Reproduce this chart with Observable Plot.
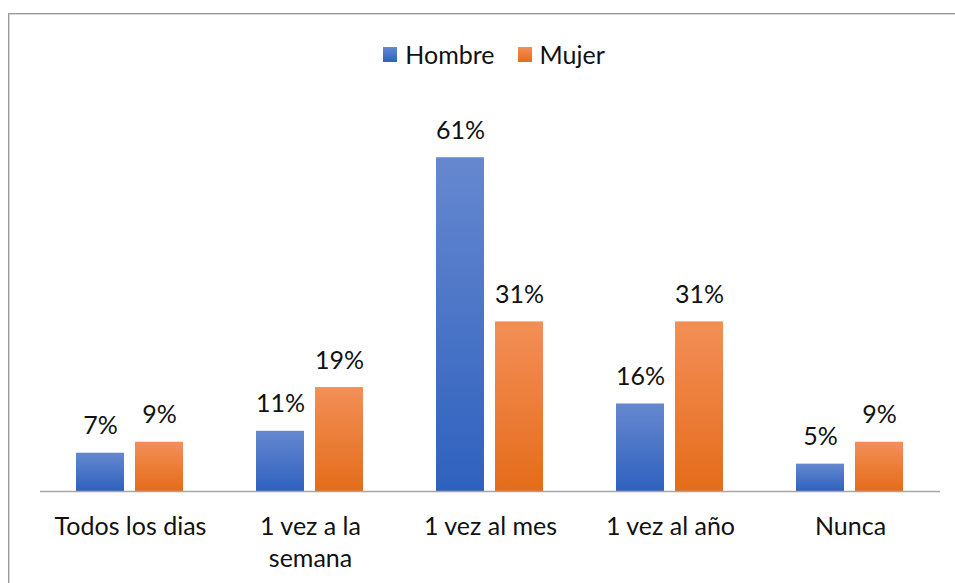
<!DOCTYPE html>
<html>
<head>
<meta charset="utf-8">
<script src="https://cdn.jsdelivr.net/npm/d3@7"></script>
<script src="https://cdn.jsdelivr.net/npm/@observablehq/plot@0.6"></script>
<style>
  html, body { margin: 0; padding: 0; background: #fff; overflow: hidden; }
  body { width: 955px; height: 583px; position: relative; font-family: Lato, "Open Sans", sans-serif; }
  #frame { position: absolute; left: 8px; top: 13px; width: 1000px; height: 600px;
           border-left: 1px solid #9a9a9a; border-top: 1px solid #9a9a9a;
           box-shadow: inset 1px 1px 0 #d6d6d6; box-sizing: border-box; }
  #legend { position: absolute; left: 33px; top: 40px; width: 922px; height: 28px;
            display: flex; justify-content: center; align-items: center;
            font-size: 25px; color: #111; }
  .item { display: flex; align-items: center; }
  .item + .item { margin-left: 23px; }
  .sw { width: 14px; height: 15px; margin-right: 8px; }
  #chart { position: absolute; left: 0; top: 80px; }
</style>
</head>
<body>
<div id="frame"></div>
<div id="legend"></div>
<div id="chart"></div>
<script>
const categories = ["Todos los dias", "1 vez a la semana", "1 vez al mes", "1 vez al año", "Nunca"];
const categoryLabels = ["Todos los dias", "1 vez a la\nsemana", "1 vez al mes", "1 vez al año", "Nunca"];
const series = ["Hombre", "Mujer"];
const hombre = [7, 11, 61, 16, 5];
const mujer = [9, 19, 31, 31, 9];
const gradients = {
  Hombre: ["#6688d0", "#2e61be"],
  Mujer: ["#f38f57", "#e46c1a"]
};

const data = [];
categories.forEach((c, i) => {
  data.push({category: c, series: "Hombre", value: hombre[i]});
  data.push({category: c, series: "Mujer", value: mujer[i]});
});

// legend
const legend = document.getElementById("legend");
series.forEach(s => {
  const item = document.createElement("div");
  item.className = "item";
  const sw = document.createElement("div");
  sw.className = "sw";
  sw.style.background = `linear-gradient(${gradients[s][0]}, ${gradients[s][1]})`;
  const t = document.createElement("span");
  t.textContent = s;
  item.appendChild(sw);
  item.appendChild(t);
  legend.appendChild(item);
});

const defs = () => {
  const d = d3.create("svg:defs");
  series.forEach((s, i) => {
    const g = d.append("linearGradient").attr("id", "grad" + i)
      .attr("x1", 0).attr("y1", 0).attr("x2", 0).attr("y2", 1);
    g.append("stop").attr("offset", "0%").attr("stop-color", gradients[s][0]);
    g.append("stop").attr("offset", "100%").attr("stop-color", gradients[s][1]);
  });
  return d.node();
};

const chart = Plot.plot({
  width: 955,
  height: 500,
  marginLeft: 39,
  marginRight: 15,
  marginTop: 28,
  marginBottom: 89,
  style: {fontFamily: "Lato, 'Open Sans', sans-serif", fontSize: "25px", color: "#111", background: "transparent"},
  fx: {domain: categories, padding: 0, label: null, axis: null},
  x: {domain: series, paddingInner: 0.1833, paddingOuter: 0.592, axis: null},
  y: {domain: [0, 70], axis: null},
  color: {domain: series, range: ["url(#grad0)", "url(#grad1)"]},
  marks: [
    defs,
    Plot.barY(data, {fx: "category", x: "series", y: "value", fill: "series"}),
    Plot.ruleY([0], {stroke: "#a6a6a6", strokeWidth: 1.5}),
    Plot.text(data, {fx: "category", x: "series", y: "value", text: d => d.value + "%",
      dy: -27, fill: "#111", fontSize: 25}),
    Plot.axisFx({anchor: "bottom", tickSize: 0, tickPadding: 20, label: null,
      tickFormat: d => categoryLabels[categories.indexOf(d)], fontSize: 25, fill: "#111",
      lineAnchor: "top", lineHeight: 1.3})
  ]
});
document.getElementById("chart").appendChild(chart);
</script>
</body>
</html>
